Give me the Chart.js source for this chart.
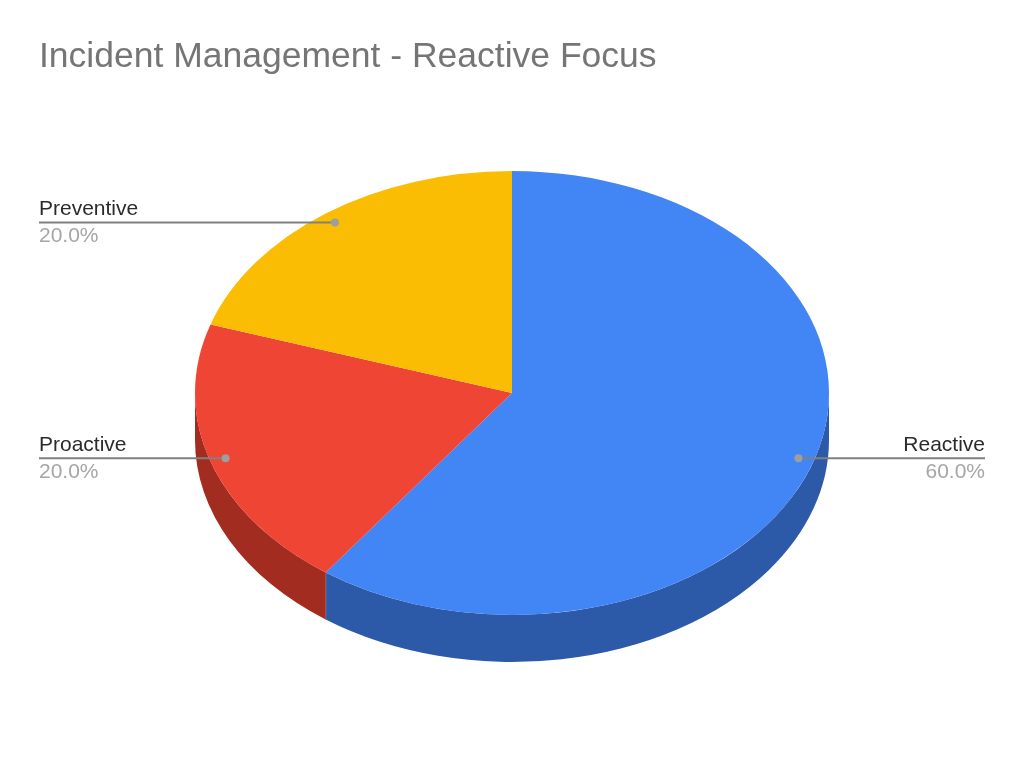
<!DOCTYPE html>
<html>
<head>
<meta charset="utf-8">
<title>Incident Management - Reactive Focus</title>
<script src="https://cdn.jsdelivr.net/npm/chart.js@4"></script>
<style>
  body { margin: 0; background: #fff; }
  canvas { display: block; }
</style>
</head>
<body>
<canvas id="myChart" width="1024" height="773"></canvas>
<script>
const chartTitle = 'Incident Management - Reactive Focus';
const categories = ['Reactive', 'Proactive', 'Preventive'];
const shares = [60, 20, 20];

const topColors = ['#4285f4', '#ee4535', '#fbbc04'];
const sideColors = ['#2d5aa8', '#a32c21', '#b08403'];

const squash = 0.7;   // pie is tilted: vertical scale of the top face
const depth = 47;     // height of the side wall
const fontName = '"Liberation Sans", Arial, sans-serif';

// side wall goes under the pie, top face is drawn squashed by the same transform
const tiltPlugin = {
    id: 'tilt',
    beforeDatasetsDraw(chart) {
        const ctx = chart.ctx;
        const arcs = chart.getDatasetMeta(0).data;
        ctx.save();
        arcs.forEach((arc, i) => {
            const start = Math.max(arc.startAngle, 0);
            const end = Math.min(arc.endAngle, Math.PI);
            if (end <= start) return;
            const r = arc.outerRadius;
            ctx.beginPath();
            ctx.ellipse(arc.x, arc.y, r, r * squash, 0, start, end);
            ctx.ellipse(arc.x, arc.y + depth, r, r * squash, 0, end, start, true);
            ctx.closePath();
            ctx.fillStyle = sideColors[i];
            ctx.fill();
            // thin light seam where a slice ends on the visible wall
            if (end < Math.PI) {
                const sx = arc.x + Math.cos(end) * r;
                const sy = arc.y + Math.sin(end) * r * squash;
                ctx.strokeStyle = '#9a8f96';
                ctx.lineWidth = 1;
                ctx.beginPath();
                ctx.moveTo(sx, sy);
                ctx.lineTo(sx, sy + depth);
                ctx.stroke();
            }
        });
        const c = arcs[0];
        ctx.translate(0, c.y);
        ctx.scale(1, squash);
        ctx.translate(0, -c.y);
    },
    afterDatasetsDraw(chart) {
        chart.ctx.restore();
    }
};

// leader line, dot and the two text rows for each slice
const leaderPlugin = {
    id: 'leaders',
    afterDraw(chart) {
        const ctx = chart.ctx;
        const area = chart.chartArea;
        const total = shares.reduce((a, b) => a + b, 0);
        chart.getDatasetMeta(0).data.forEach((arc, i) => {
            const mid = (arc.startAngle + arc.endAngle) / 2;
            const px = arc.x + Math.cos(mid) * arc.outerRadius * 0.95;
            const py = arc.y + Math.sin(mid) * arc.outerRadius * 0.95 * squash;
            const onLeft = px < arc.x;
            const edge = onLeft ? area.left : area.right;

            ctx.save();
            ctx.strokeStyle = '#808080';
            ctx.lineWidth = 2;
            ctx.beginPath();
            ctx.moveTo(edge, py);
            ctx.lineTo(px, py);
            ctx.stroke();

            ctx.fillStyle = '#9e9e9e';
            ctx.beginPath();
            ctx.arc(px, py, 4, 0, Math.PI * 2);
            ctx.fill();

            ctx.textAlign = onLeft ? 'left' : 'right';
            ctx.textBaseline = 'alphabetic';
            ctx.font = '21px ' + fontName;
            ctx.fillStyle = '#2b2b2b';
            ctx.fillText(categories[i], edge, py - 7);
            ctx.fillStyle = '#a6a6a6';
            ctx.fillText((shares[i] / total * 100).toFixed(1) + '%', edge, py + 20);
            ctx.restore();
        });
    }
};

new Chart(document.getElementById('myChart').getContext('2d'), {
    type: 'pie',
    data: {
        labels: categories,
        datasets: [{
            data: shares,
            backgroundColor: topColors,
            borderWidth: 0,
            radius: 317,
            clip: false
        }]
    },
    options: {
        responsive: false,
        animation: false,
        layout: { padding: { left: 39, right: 39, top: 36, bottom: 75.6 } },
        plugins: {
            legend: { display: false },
            tooltip: { enabled: false },
            title: {
                display: true,
                text: chartTitle,
                align: 'start',
                color: '#757575',
                font: { family: fontName, size: 35.5, weight: 'normal' },
                padding: { top: 0, bottom: 10 }
            }
        }
    },
    plugins: [tiltPlugin, leaderPlugin]
});
</script>
</body>
</html>
